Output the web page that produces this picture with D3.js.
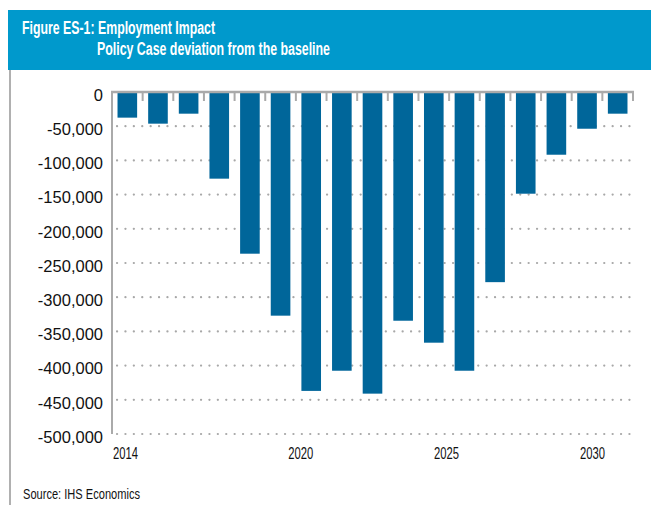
<!DOCTYPE html>
<meta charset="utf-8">
<style>
body { margin: 0; background: #fff; }
.narrow { font-family: "Liberation Sans", Arial, sans-serif; }
.ylab { font-family: "Liberation Sans", Arial, sans-serif; font-size: 16.5px; fill: #111; }
</style>
<body>
<script src="https://cdn.jsdelivr.net/npm/d3@7"></script>
<script>

// data
var years = [2014, 2015, 2016, 2017, 2018, 2019, 2020, 2021, 2022, 2023, 2024, 2025, 2026, 2027, 2028, 2029, 2030];
var jobs = [-37500, -46300, -31700, -126700, -236400, -327000, -437000, -407500, -441000, -334400, -366500, -407500, -278000, -148700, -91700, -53700, -31700];
var yTicks = [0, -50000, -100000, -150000, -200000, -250000, -300000, -350000, -400000, -450000, -500000];
var xLabels = [2014, 2020, 2025, 2030];

var W = 651, H = 505;

var svg = d3.select("body").append("svg")
    .attr("width", W)
    .attr("height", H);

// header band
svg.append("rect")
    .attr("x", 8).attr("y", 10)
    .attr("width", W - 8).attr("height", 60)
    .style("fill", "#0099cc");

svg.append("line")
    .attr("x1", 10).attr("x2", 10)
    .attr("y1", 70).attr("y2", H)
    .style("stroke", "#b0b0b0").style("stroke-width", 2);

svg.append("text")
    .attr("class", "narrow")
    .attr("x", 22).attr("y", 34)
    .attr("textLength", 193).attr("lengthAdjust", "spacingAndGlyphs")
    .style("font-size", "17.5px").style("font-weight", "bold").style("fill", "#fff")
    .text("Figure ES-1: Employment Impact");

svg.append("text")
    .attr("class", "narrow")
    .attr("x", 97).attr("y", 55)
    .attr("textLength", 233).attr("lengthAdjust", "spacingAndGlyphs")
    .style("font-size", "17.5px").style("font-weight", "bold").style("fill", "#fff")
    .text("Policy Case deviation from the baseline");

// scales
var x = d3.scaleBand().domain(years).range([112, 633]).paddingInner(0.36).paddingOuter(0.18);
var y = d3.scaleLinear().domain([-500000, 0]).range([434, 92]);
// year labels sit on their own (slightly tighter) spacing in the original
var xl = d3.scaleLinear().domain([2014, 2030]).range([125.5, 592.5]);

// dotted gridlines
svg.selectAll(".grid")
    .data(yTicks.filter(function(d) { return d != 0; }))
  .enter().append("line")
    .attr("class", "grid")
    .attr("x1", 117).attr("x2", 634)
    .attr("y1", function(d) { return y(d); })
    .attr("y2", function(d) { return y(d); })
    .style("stroke", "#a8a8a8")
    .style("stroke-width", 2.2)
    .style("stroke-linecap", "round")
    .style("stroke-dasharray", "0.1 8.3");

// bars
svg.selectAll(".bar")
    .data(years)
  .enter().append("rect")
    .attr("class", "bar")
    .attr("x", function(d) { return x(d); })
    .attr("y", y(0))
    .attr("width", x.bandwidth())
    .attr("height", function(d, i) { return y(jobs[i]) - y(0); })
    .style("fill", "#00669a");

// zero axis with ticks between categories
var step = x.step();
var tickX = d3.range(years.length + 1).map(function(i) { return 112 + i * step; });
svg.selectAll(".xtick")
    .data(tickX)
  .enter().append("line")
    .attr("class", "xtick")
    .attr("x1", function(d) { return d; })
    .attr("x2", function(d) { return d; })
    .attr("y1", y(0)).attr("y2", y(0) + 9)
    .style("stroke", "#aaaaaa").style("stroke-width", 2);

svg.append("line")
    .attr("x1", 111).attr("x2", 634)
    .attr("y1", y(0)).attr("y2", y(0))
    .style("stroke", "#aaaaaa").style("stroke-width", 2.4);

svg.append("line")
    .attr("x1", 112).attr("x2", 112)
    .attr("y1", y(0)).attr("y2", y(-500000))
    .style("stroke", "#aaaaaa").style("stroke-width", 2);

// y labels
var fmt = d3.format(",");
svg.selectAll(".ylab")
    .data(yTicks)
  .enter().append("text")
    .attr("class", "ylab")
    .attr("x", 103)
    .attr("y", function(d) { return y(d) + 3; })
    .attr("dy", "0.35em")
    .attr("text-anchor", "end")
    .text(function(d) { return d == 0 ? "0" : "-" + fmt(-d); });

// x labels
svg.selectAll(".xlab")
    .data(xLabels)
  .enter().append("text")
    .attr("class", "narrow")
    .attr("x", function(d) { return xl(d) - 12.5; })
    .attr("y", 459)
    .attr("textLength", 25).attr("lengthAdjust", "spacingAndGlyphs")
    .style("font-size", "16px")
    .style("fill", "#111")
    .text(function(d) { return d; });

svg.append("text")
    .attr("class", "narrow")
    .attr("x", 23).attr("y", 499)
    .attr("textLength", 117).attr("lengthAdjust", "spacingAndGlyphs")
    .style("font-size", "15px")
    .style("fill", "#111")
    .text("Source: IHS Economics");

</script>
